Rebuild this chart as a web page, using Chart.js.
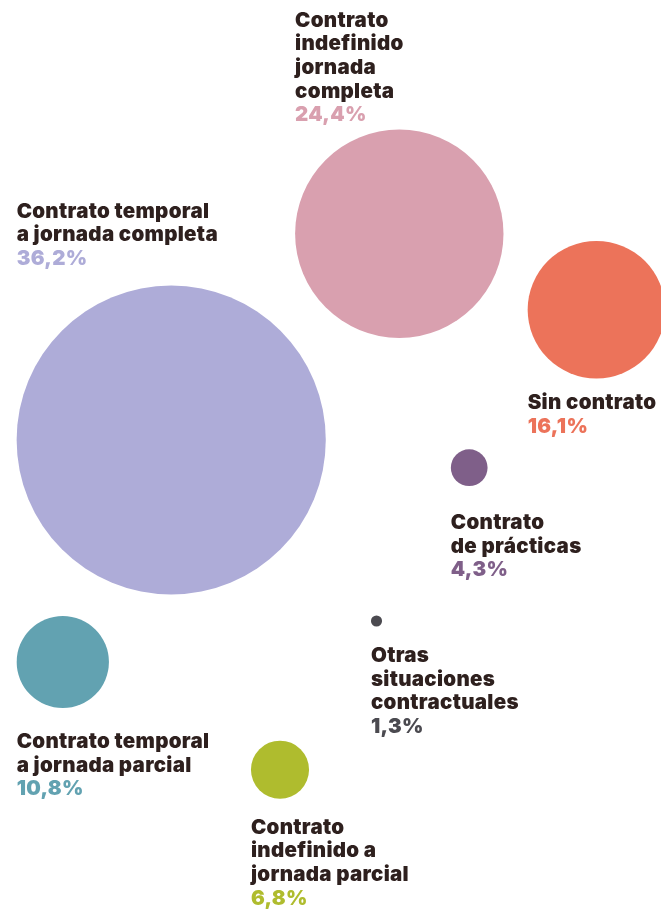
<!DOCTYPE html>
<html>
<head>
<meta charset="utf-8">
<script src="https://cdn.jsdelivr.net/npm/chart.js@4/dist/chart.umd.min.js"></script>
<style>
  html, body { margin: 0; padding: 0; background: #ffffff; }
  #wrap { width: 661px; height: 909px; position: relative; }
</style>
</head>
<body>
<div id="wrap"><canvas id="c" width="661" height="909"></canvas></div>
<script>
// ---- data ----
const categories = [
  ['Contrato', 'indefinido', 'jornada', 'completa'],
  ['Contrato temporal', 'a jornada completa'],
  ['Sin contrato'],
  ['Contrato', 'de prácticas'],
  ['Otras', 'situaciones', 'contractuales'],
  ['Contrato temporal', 'a jornada parcial'],
  ['Contrato', 'indefinido a', 'jornada parcial']
];
const shares = [24.4, 36.2, 16.1, 4.3, 1.3, 10.8, 6.8];
// layout positions of the packed bubbles (chart units)
const posX = [399.3, 171.2, 596.4, 469.2, 376.5, 62.8, 280.0];
const posY = [233.7, 440.0, 309.7, 467.7, 621.0, 662.0, 769.7];

// ---- styles / layout ----
const colors = ['#D9A0AF', '#AEACD8', '#EC735A', '#7F5F89', '#4B4A50', '#62A2B1', '#AFBC2E'];
const labelSide = ['above', 'above', 'below', 'below', 'below', 'below', 'below'];
const labelGap = [8.3, 20.5, 30.7, 43, 35.5, 40, 35];
const RADIUS_PER_POINT = 4.27;
const TEXT_COLOR = '#2E201E';
const FONT = '900 20.5px Inter, "Liberation Sans", sans-serif';
const LETTER_SPACING = '0.3px';
const LINE_H = 23.6;

const fmt = v => v.toFixed(1).replace('.', ',') + '%';

const labelPlugin = {
  id: 'bubbleLabels',
  afterDatasetsDraw(chart) {
    const ctx = chart.ctx;
    const meta = chart.getDatasetMeta(0);
    ctx.save();
    ctx.font = FONT;
    if ('letterSpacing' in ctx) ctx.letterSpacing = LETTER_SPACING;
    ctx.textAlign = 'left';
    ctx.textBaseline = 'alphabetic';
    meta.data.forEach((el, i) => {
      const r = el.options.radius;
      const x = el.x - r;
      const lines = categories[i].concat([fmt(shares[i])]);
      let firstBase;
      if (labelSide[i] === 'above') {
        const lastBase = el.y - r - labelGap[i];
        firstBase = lastBase - LINE_H * (lines.length - 1);
      } else {
        firstBase = el.y + r + labelGap[i];
      }
      lines.forEach((t, j) => {
        const isPct = j === lines.length - 1;
        ctx.fillStyle = isPct ? colors[i] : TEXT_COLOR;
        ctx.fillText(t, x, firstBase + j * LINE_H);
      });
    });
    ctx.restore();
  }
};

new Chart(document.getElementById('c'), {
  type: 'bubble',
  data: {
    datasets: [{
      data: shares.map((v, i) => ({ x: posX[i], y: posY[i], r: v * RADIUS_PER_POINT })),
      backgroundColor: colors,
      borderWidth: 0,
      hoverBorderWidth: 0,
      hoverRadius: 0,
      clip: false
    }]
  },
  options: {
    responsive: false,
    animation: false,
    events: [],
    devicePixelRatio: 1,
    layout: { padding: 0, autoPadding: false },
    plugins: { legend: { display: false }, tooltip: { enabled: false } },
    scales: {
      x: { type: 'linear', min: 0, max: 661, display: false },
      y: { type: 'linear', min: 0, max: 909, reverse: true, display: false }
    }
  },
  plugins: [labelPlugin]
});
</script>
</body>
</html>
